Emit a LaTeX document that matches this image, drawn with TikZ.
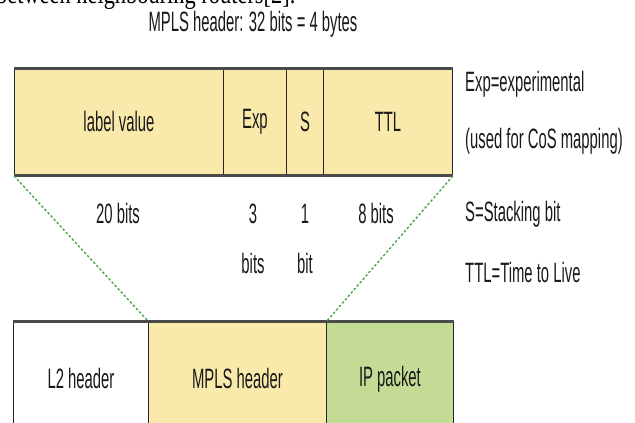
\documentclass[tikz,border=0pt]{standalone}
\usepackage{fontspec}
\newfontfamily\cond[FakeStretch=0.53]{Liberation Sans}
\newfontfamily\serifcut[FakeStretch=0.8]{Liberation Serif}
\definecolor{cellyellow}{HTML}{F9EAAB}
\definecolor{cellgreen}{HTML}{C3DB95}
\definecolor{dashgreen}{HTML}{4CA64C}
\definecolor{edgegray}{HTML}{4A4A4A}
\begin{document}
\begin{tikzpicture}[x=1pt,y=-1pt,
  lbl/.style={font=\cond\fontsize{28}{32}\selectfont, text=black!90, inner sep=0pt},
  cell/.style={draw=black!85, line width=0.9pt, inner sep=0pt, anchor=north west,
     font=\cond\fontsize{28}{32}\selectfont, text=black!90},
  heavy/.style={draw=edgegray, line width=3pt},
  gdash/.style={draw=dashgreen, line width=1.4pt, dash pattern=on 2.5pt off 2pt}]
\useasboundingbox (0,0) rectangle (635,423);
\clip (0,0) rectangle (635,423);

% clipped caption fragment at the very top
\node[anchor=base west, inner sep=0pt, font=\serifcut\fontsize{28}{30}\selectfont] (frag) at (-4,3) {between neighbouring routers[2].};

% title
\node[lbl, anchor=base] (title) at (253,31) {MPLS header: 32 bits = 4 bytes};

% top MPLS header fields
\node[cell, fill=cellyellow, minimum width=209pt, minimum height=107pt] (lv) at (14,68) {label value};
\node[cell, fill=cellyellow, minimum width=63pt, minimum height=107pt] (exp) at (223,68) {Exp};
\node[cell, fill=cellyellow, minimum width=37pt, minimum height=107pt] (s) at (286,68) {S};
\node[cell, fill=cellyellow, minimum width=129pt, minimum height=107pt] (ttl) at (323,68) {TTL};
\draw[heavy] (lv.north west) -- (ttl.north east);
\draw[heavy] (lv.south west) -- (ttl.south east);

% bit widths
\node[lbl, anchor=base] (b20) at (118,223) {20 bits};
\node[lbl, anchor=base] (b3) at (253,223) {3};
\node[lbl, anchor=base] (b3b) at (253,273) {bits};
\node[lbl, anchor=base] (b1) at (305,223) {1};
\node[lbl, anchor=base] (b1b) at (305,273) {bit};
\node[lbl, anchor=base] (b8) at (376,223) {8 bits};

% legend
\node[lbl, anchor=base west] (lg1) at (465,91) {Exp=experimental};
\node[lbl, anchor=base west] (lg2) at (465,148) {(used for CoS mapping)};
\node[lbl, anchor=base west] (lg3) at (465,221) {S=Stacking bit};
\node[lbl, anchor=base west] (lg4) at (465,282) {TTL=Time to Live};

% packet
\node[cell, fill=white, minimum width=135pt, minimum height=115pt] (l2) at (13,321) {L2 header};
\node[cell, fill=cellyellow, minimum width=178pt, minimum height=115pt] (mpls) at (148,321) {MPLS header};
\node[cell, fill=cellgreen, minimum width=127pt, minimum height=115pt] (ip) at (326,321) {IP packet};
\draw[heavy] (l2.north west) -- (ip.north east);

% zoom lines
\draw[gdash] (lv.south west) -- (mpls.north west);
\draw[gdash] (ttl.south east) -- (mpls.north east);
\end{tikzpicture}
\end{document}
